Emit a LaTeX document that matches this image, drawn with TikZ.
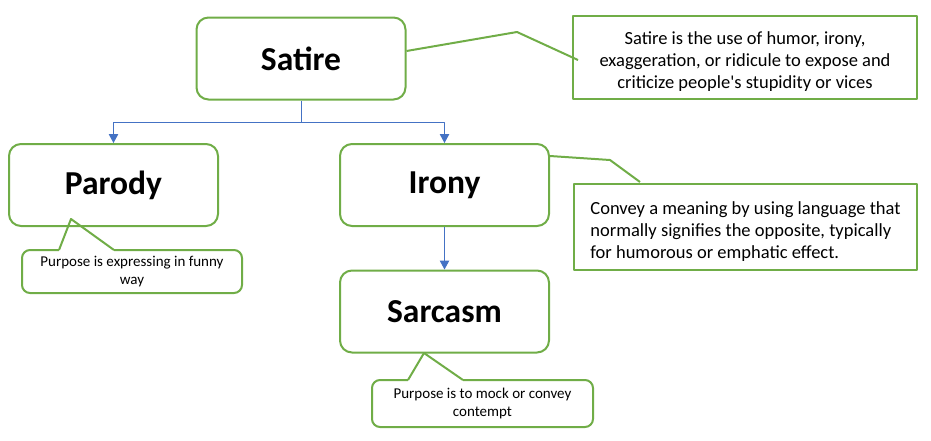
\documentclass[tikz,border=0pt]{standalone}
\usepackage{fontspec}
\setmainfont{Carlito}
\usetikzlibrary{arrows.meta}
\definecolor{boxgreen}{HTML}{70AD47}
\definecolor{linkblue}{HTML}{4472C4}
\newcommand{\defstrut}{\rule{0pt}{21pt}}
\begin{document}
\begin{tikzpicture}[
        x=1pt, y=-1pt,
        line join=round,
        font=\fontsize{18.5}{22}\selectfont
    ]
    \tikzset{
        termbox/.style = {rectangle, rounded corners=12pt, draw=boxgreen, line width=2pt, fill=white, minimum width=209pt, minimum height=82pt, font=\fontsize{33.5}{36}\selectfont\bfseries},
        defbox/.style = {rectangle, draw=boxgreen, line width=2pt, fill=white, inner sep=0pt},
        notebox/.style = {rectangle, rounded corners=8pt, draw=boxgreen, line width=2pt, fill=white, align=center, inner sep=0pt, font=\fontsize{15}{17.5}\selectfont},
        pointer/.style = {draw=boxgreen, line width=2pt},
        gapfill/.style = {fill=white},
        link/.style = {draw=linkblue, line width=1pt},
        linkarrow/.style = {link, -{Triangle[length=9pt,width=9.5pt]}},
    }
    \useasboundingbox (0,0) rectangle (931,440);
    \node[termbox] at (301,58.5) (satire) {Satire};
    \node[termbox] at (113.5,185) (parody) {Parody};
    \node[termbox] at (444.5,185) (irony) {Irony};
    \node[termbox] at (444.5,311.5) (sarcasm) {Sarcasm};
    %
    \node[defbox, minimum width=344pt, minimum height=83pt, align=center] at (745,57.5) (satiredef) {\defstrut Satire is the use of humor, irony,\\exaggeration, or ridicule to expose and\\criticize people\textquotesingle s stupidity or vices};
    \node[defbox, minimum width=343pt, minimum height=86pt, align=left] at (745.5,227) (ironydef) {\defstrut Convey a meaning by using language that\\normally signifies the opposite, typically\\for humorous or emphatic effect.};
    \node[notebox, minimum width=220pt, minimum height=43pt] at (132,271.5) (parodynote) {Purpose is expressing in funny\\way};
    \node[notebox, minimum width=221pt, minimum height=47pt] at (482.5,403.5) (sarcasmnote) {Purpose is to mock or convey\\contempt};
    %
    \coordinate (fork) at (301,122);
    \draw[link] (satire.south) -- (fork);
    \draw[linkarrow] (fork) -| (parody.north);
    \draw[linkarrow] (fork) -| (irony.north);
    \draw[linkarrow] (irony) -- (sarcasm);
    %
    \coordinate (satirebend) at (517,32);
    \coordinate (satireend) at (578,60);
    \draw[pointer] ([yshift=7.5pt]satire.east) -- (satirebend) -- (satireend);
    \coordinate (ironybend) at (610,160);
    \coordinate (ironyend) at (640,182);
    \draw[pointer] ([yshift=29pt]irony.east) -- (ironybend) -- (ironyend);
    %
    \coordinate (parodytip) at (71,219);
    \coordinate (parodybasel) at (59,250);
    \coordinate (parodybaser) at (114,250);
    \fill[gapfill] ([yshift=1.5pt]parodybasel) rectangle ([yshift=-1.5pt]parodybaser);
    \draw[pointer] (parodybasel) -- (parodytip) -- (parodybaser);
    \coordinate (sarcasmtip) at (424,353);
    \coordinate (sarcasmbasel) at (408,380);
    \coordinate (sarcasmbaser) at (463,380);
    \fill[gapfill] ([yshift=1.5pt]sarcasmbasel) rectangle ([yshift=-1.5pt]sarcasmbaser);
    \draw[pointer] (sarcasmbasel) -- (sarcasmtip) -- (sarcasmbaser);
\end{tikzpicture}
\end{document}
